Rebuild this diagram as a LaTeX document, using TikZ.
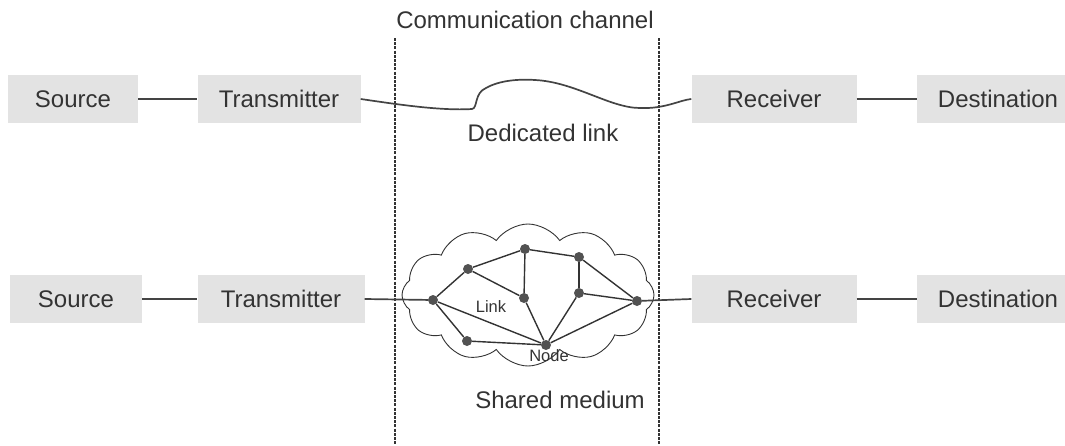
\documentclass[tikz,border=0pt]{standalone}
\usepackage{fontspec}
\setmainfont{Liberation Sans}
\usetikzlibrary{shapes.symbols}
\definecolor{boxfill}{HTML}{E3E3E3}
\definecolor{ink}{HTML}{333333}
\definecolor{wire}{HTML}{444444}
\begin{document}
\begin{tikzpicture}[x=1pt,y=-1pt,
  blk/.style={rectangle, fill=boxfill, minimum height=48pt, inner sep=0pt,
    text=ink, font=\fontsize{24}{27}\selectfont},
  lbl/.style={text=ink, font=\fontsize{24}{27}\selectfont, inner sep=0pt},
  small/.style={text=ink, font=\fontsize{16.5}{18}\selectfont, inner sep=0pt},
  wireline/.style={draw=wire, line width=1.7pt},
  net/.style={draw=ink, line width=1.4pt},
  dot/.style={circle, fill=ink!85, inner sep=0pt, minimum size=10pt},
  chan/.style={draw=ink, line width=1.3pt, dash pattern=on 3pt off 1.2pt}
]
\useasboundingbox (0,0) rectangle (1065,445);

% channel boundaries
\coordinate (l1) at (395,38);
\coordinate (l2) at (395,445);
\coordinate (r1) at (659,38);
\coordinate (r2) at (659,445);
\draw[chan] (l1) -- (l2);
\draw[chan] (r1) -- (r2);
\node[lbl] (cc) at (525,20) {Communication channel};

% top row
\node[blk, minimum width=130pt] (src1) at (73,99) {Source};
\node[blk, minimum width=163pt] (tx1) at (279,99) {Transmitter};
\node[blk, minimum width=165pt] (rx1) at (774,99) {Receiver};
\node[blk, minimum width=162pt] (dst1) at (998,99) {Destination};
\draw[wireline] (src1) -- (tx1);
\draw[wireline] (rx1) -- (dst1);

\coordinate (d1) at (472,109);
\coordinate (d2) at (486,88);
\coordinate (d3) at (535,80);
\coordinate (d4) at (640,108);
\draw[wireline] (tx1.east) .. controls (395,104) and (440,111) .. (d1)
  .. controls (478,108) and (474,93) .. (d2)
  .. controls (500,80) and (520,79) .. (d3)
  .. controls (575,82) and (610,108) .. (d4)
  .. controls (665,109) and (680,100) .. (rx1.west);
\node[lbl] (dl) at (543,133) {Dedicated link};

% bottom row
\node[blk, minimum width=132pt] (src2) at (76,299) {Source};
\node[blk, minimum width=167pt] (tx2) at (281,299) {Transmitter};
\node[blk, minimum width=165pt] (rx2) at (774,299) {Receiver};
\node[blk, minimum width=162pt] (dst2) at (998,299) {Destination};
\draw[wireline] (src2) -- (tx2);
\draw[wireline] (rx2) -- (dst2);

% cloud
\node[cloud, draw=ink, line width=0.9pt, cloud puffs=12, cloud puff arc=110,
  aspect=1.9, minimum width=252pt, minimum height=142pt, inner sep=0pt] (cl) at (528,295) {};

% network nodes
\node[dot] (A) at (433,300) {};
\node[dot] (B) at (468,269) {};
\node[dot] (C) at (525,249) {};
\node[dot] (D) at (524,298) {};
\node[dot] (E) at (579,257) {};
\node[dot] (F) at (579,293) {};
\node[dot] (G) at (637,301) {};
\node[dot] (H) at (467,341) {};
\node[dot] (N) at (546,345) {};

\draw[wireline] (tx2.east) -- (A);
\draw[wireline] (G) -- (rx2.west);
\draw[net] (A) -- (B) -- (C) -- (E) -- (G);
\draw[net] (B) -- (D);
\draw[net] (C) -- (D);
\draw[net] (E) -- (F);
\draw[net] (F) -- (G);
\draw[net] (A) -- (H) -- (N);
\draw[net] (A) -- (N);
\draw[net] (D) -- (N);
\draw[net] (F) -- (N);
\draw[net] (G) -- (N);

\node[small] (lk) at (491,307) {Link};
\node[small] (nd) at (549,356) {Node};
\node[lbl] (sm) at (560,400) {Shared medium};
\end{tikzpicture}
\end{document}
